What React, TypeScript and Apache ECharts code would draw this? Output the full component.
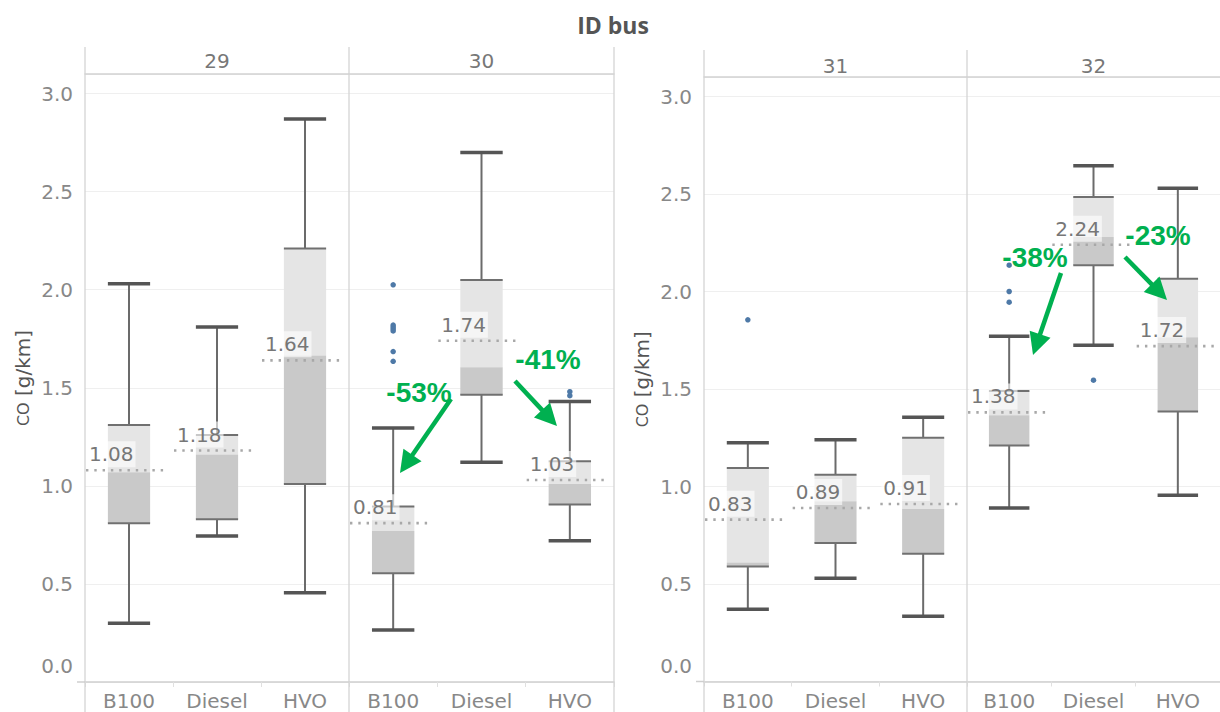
import React, { useEffect, useRef } from 'react';
import * as echarts from 'echarts';

// ---------- data ----------
const chartTitle = 'ID bus';
const panels = ['29', '30', '31', '32'];
const categories = ['B100', 'Diesel', 'HVO'];
const yAxisName = '{sc|CO} [g/km]';

// [lower whisker, Q1, median, Q3, upper whisker] for B100, Diesel, HVO
const box29 = [
  [0.30, 0.81, 1.07, 1.31, 2.03],
  [0.745, 0.83, 1.16, 1.26, 1.81],
  [0.455, 1.01, 1.665, 2.21, 2.87],
];
const box30 = [
  [0.265, 0.555, 0.77, 0.895, 1.295],
  [1.12, 1.465, 1.605, 2.05, 2.70],
  [0.72, 0.905, 1.01, 1.125, 1.43],
];
const box31 = [
  [0.37, 0.59, 0.61, 1.095, 1.225],
  [0.53, 0.71, 0.925, 1.06, 1.24],
  [0.335, 0.655, 0.885, 1.25, 1.355],
];
const box32 = [
  [0.89, 1.21, 1.365, 1.49, 1.77],
  [1.725, 2.135, 2.28, 2.485, 2.645],
  [0.955, 1.385, 1.765, 2.065, 2.53],
];

// average (reference line) values
const avg29 = [1.08, 1.18, 1.64];
const avg30 = [0.81, 1.74, 1.03];
const avg31 = [0.83, 0.89, 0.91];
const avg32 = [1.38, 2.24, 1.72];

// outliers: [category index, value]
const out29: number[][] = [];
const out30 = [
  [0, 2.025], [0, 1.82], [0, 1.81], [0, 1.80], [0, 1.79], [0, 1.685], [0, 1.635],
  [2, 1.48], [2, 1.46],
];
const out31 = [[0, 1.855]];
const out32 = [[0, 2.135], [0, 2.0], [0, 1.945], [1, 1.545]];

const changeLabels = ['-53%', '-41%', '-38%', '-23%'];

// ---------- layout / style ----------
const FONT = '"DejaVu Sans", sans-serif';
const GREEN = '#00b050';
const grids = [
  { left: 85, width: 264, top: 74, height: 608 },
  { left: 349, width: 265, top: 74, height: 608 },
  { left: 704, width: 263, top: 77, height: 604.5 },
  { left: 967, width: 264, top: 77, height: 604.5 },
];
const annotationPos = [
  { tx: 419, ty: 392, from: [451, 399], to: [400, 473] },
  { tx: 548, ty: 359, from: [515, 381], to: [557, 426] },
  { tx: 1035, ty: 257, from: [1061, 273], to: [1033, 355] },
  { tx: 1158, ty: 235, from: [1125, 257], to: [1167, 300] },
];

function renderBox(params: any, api: any) {
  const x = api.value(0);
  const lo = api.coord([x, api.value(1)]);
  const q1 = api.coord([x, api.value(2)]);
  const md = api.coord([x, api.value(3)]);
  const q3 = api.coord([x, api.value(4)]);
  const hi = api.coord([x, api.value(5)]);
  const band = api.size([1, 0])[0];
  const w = band * 0.48;
  const cx = lo[0];
  const l = cx - w / 2;
  const r = cx + w / 2;
  return {
    type: 'group',
    children: [
      { type: 'rect', shape: { x: l, y: q3[1], width: w, height: md[1] - q3[1] }, style: { fill: '#e5e5e5' } },
      { type: 'rect', shape: { x: l, y: md[1], width: w, height: q1[1] - md[1] }, style: { fill: '#c9c9c9' } },
      { type: 'line', shape: { x1: cx, y1: hi[1], x2: cx, y2: q3[1] }, style: { stroke: '#6b6b6b', lineWidth: 2 } },
      { type: 'line', shape: { x1: cx, y1: q1[1], x2: cx, y2: lo[1] }, style: { stroke: '#6b6b6b', lineWidth: 2 } },
      { type: 'line', shape: { x1: l, y1: q3[1], x2: r, y2: q3[1] }, style: { stroke: '#707070', lineWidth: 2 } },
      { type: 'line', shape: { x1: l, y1: q1[1], x2: r, y2: q1[1] }, style: { stroke: '#707070', lineWidth: 2 } },
      { type: 'line', shape: { x1: l, y1: hi[1], x2: r, y2: hi[1] }, style: { stroke: '#555', lineWidth: 3.5 } },
      { type: 'line', shape: { x1: l, y1: lo[1], x2: r, y2: lo[1] }, style: { stroke: '#555', lineWidth: 3.5 } },
    ],
  };
}

function renderAvg(params: any, api: any) {
  const x = api.value(0);
  const v = api.value(1);
  const p = api.coord([x, v]);
  const band = api.size([1, 0])[0];
  const s = p[0] - band / 2;
  return {
    type: 'group',
    children: [
      {
        type: 'line',
        shape: { x1: s + 1, y1: p[1], x2: s + band * 0.93, y2: p[1] },
        style: { stroke: '#a8a8a8', lineWidth: 2.6, lineDash: [2.4, 5.9] },
      },
      {
        type: 'text',
        x: s + 2,
        y: p[1] - 16,
        style: {
          text: Number(v).toFixed(2),
          fill: '#777',
          font: `20px ${FONT}`,
          align: 'left',
          verticalAlign: 'middle',
          backgroundColor: 'rgba(255,255,255,0.62)',
          padding: [3, 2, 3, 2],
        },
      },
    ],
  };
}

function arrowGraphics(i: number) {
  const a = annotationPos[i];
  const [sx, sy] = a.from;
  const [tx, ty] = a.to;
  const dx = tx - sx;
  const dy = ty - sy;
  const len = Math.sqrt(dx * dx + dy * dy);
  const ux = dx / len;
  const uy = dy / len;
  const nx = -uy;
  const ny = ux;
  const L = 22;
  const W = 11;
  const bx = tx - ux * L;
  const by = ty - uy * L;
  return [
    {
      type: 'text',
      x: a.tx,
      y: a.ty,
      style: { text: changeLabels[i], fill: GREEN, font: 'bold 28px "Liberation Sans", Arial, sans-serif', align: 'center', verticalAlign: 'middle' },
      z: 100,
    },
    {
      type: 'line',
      shape: { x1: sx, y1: sy, x2: bx + ux * 2, y2: by + uy * 2 },
      style: { stroke: GREEN, lineWidth: 4.5 },
      z: 100,
    },
    {
      type: 'polygon',
      shape: { points: [[tx, ty], [bx + nx * W, by + ny * W], [bx - nx * W, by - ny * W]] },
      style: { fill: GREEN },
      z: 100,
    },
  ];
}

export default function App() {
  const ref = useRef<HTMLDivElement>(null);
  useEffect(() => {
    if (!ref.current) return;
    const chart = echarts.init(ref.current, undefined, { renderer: 'svg' });
    const boxes = [box29, box30, box31, box32];
    const avgs = [avg29, avg30, avg31, avg32];
    const outs = [out29, out30, out31, out32];

    const xAxis: any[] = [];
    const yAxis: any[] = [];
    const series: any[] = [];

    panels.forEach((p, i) => {
      const showY = i % 2 === 0;
      xAxis.push({
        type: 'category',
        gridIndex: i,
        data: categories,
        position: 'bottom',
        axisLine: { lineStyle: { color: '#cfcfcf', width: 1.5 } },
        axisTick: { show: true, length: 5, lineStyle: { color: '#e0e0e0' } },
        axisLabel: { color: '#888', fontSize: 20, fontFamily: FONT, margin: 9 },
      });
      xAxis.push({
        type: 'category',
        gridIndex: i,
        data: [p],
        position: 'top',
        axisLine: { lineStyle: { color: '#d2d2d2', width: 1.5 } },
        axisTick: { show: false },
        axisLabel: { color: '#777', fontSize: 20, fontFamily: FONT, margin: i < 2 ? 3 : 1 },
      });
      yAxis.push({
        type: 'value',
        gridIndex: i,
        min: 0,
        max: 3.1,
        interval: 0.5,
        axisLine: { show: false },
        axisTick: { show: false },
        splitLine: { lineStyle: { color: '#efefef', width: 1 } },
        axisLabel: {
          show: showY,
          color: '#888',
          fontSize: 20,
          fontFamily: FONT,
          margin: 12,
          showMaxLabel: false,
          formatter: (v: number) => (v === 0 ? '{z|0.0}' : v.toFixed(1)),
          rich: { z: { color: '#888', fontSize: 20, fontFamily: FONT, padding: [0, 0, 32, 0] } },
        },
        name: showY ? yAxisName : '',
        nameLocation: 'middle',
        nameRotate: 90,
        nameGap: 52,
        nameTextStyle: {
          color: '#555',
          fontSize: 20,
          fontFamily: FONT,
          rich: { sc: { color: '#555', fontSize: 16, fontFamily: FONT } },
        },
      });
      series.push({
        type: 'custom',
        xAxisIndex: i * 2,
        yAxisIndex: i,
        renderItem: renderBox,
        encode: { x: 0, y: [1, 2, 3, 4, 5] },
        data: boxes[i].map((b, j) => [j, ...b]),
        z: 2,
      });
      series.push({
        type: 'scatter',
        xAxisIndex: i * 2,
        yAxisIndex: i,
        data: outs[i],
        symbolSize: 5.5,
        itemStyle: { color: '#4e79a7', opacity: 1 },
        z: 3,
      });
      series.push({
        type: 'custom',
        xAxisIndex: i * 2,
        yAxisIndex: i,
        renderItem: renderAvg,
        encode: { x: 0, y: 1 },
        data: avgs[i].map((v, j) => [j, v]),
        z: 4,
      });
    });

    const sep = (x: number, y1: number, y2: number) => ({
      type: 'line',
      shape: { x1: x, y1, x2: x, y2 },
      style: { stroke: '#d4d4d4', lineWidth: 1.3 },
      z: 50,
    });
    const hline = (x1: number, x2: number, y: number) => ({
      type: 'line',
      shape: { x1, y1: y, x2, y2: y },
      style: { stroke: '#cfcfcf', lineWidth: 1.5 },
      z: 50,
    });

    const graphic: any[] = [
      {
        type: 'text',
        x: 613,
        y: 25,
        style: { text: chartTitle, fill: '#555', font: 'bold 23px "Open Sans", sans-serif', align: 'center', verticalAlign: 'middle' },
      },
      sep(grids[0].left, 47, 712),
      sep(grids[1].left, 47, 712),
      sep(grids[1].left + grids[1].width, 47, 712),
      sep(grids[2].left, 50, 712),
      sep(grids[3].left, 50, 712),
      hline(77, grids[0].left, grids[0].top + grids[0].height),
      hline(696, grids[2].left, grids[2].top + grids[2].height),
    ];
    changeLabels.forEach((_, i) => graphic.push(...arrowGraphics(i)));

    chart.setOption({
      animation: false,
      backgroundColor: '#ffffff',
      textStyle: { fontFamily: FONT },
      grid: grids.map((g) => ({ ...g })),
      xAxis,
      yAxis,
      series,
      graphic,
    });
    return () => chart.dispose();
  }, []);
  return (
    <div
      ref={ref}
      style={{ position: 'absolute', left: 0, top: 0, width: 1220, height: 712, background: '#fff' }}
    />
  );
}
